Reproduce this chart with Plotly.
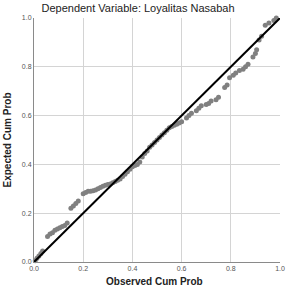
import plotly.graph_objects as go

observed = [0.005, 0.012, 0.02, 0.028, 0.035,
            0.055, 0.065, 0.075, 0.085, 0.095, 0.105, 0.115, 0.125, 0.135,
            0.15, 0.16, 0.17, 0.18,
            0.2, 0.21, 0.22, 0.23, 0.24, 0.25, 0.26, 0.27, 0.28, 0.29, 0.30, 0.31,
            0.32, 0.33, 0.34, 0.35, 0.36,
            0.37, 0.38, 0.39, 0.40, 0.41, 0.42, 0.43, 0.44, 0.45, 0.46, 0.47, 0.48,
            0.49, 0.50, 0.51, 0.52, 0.53, 0.54,
            0.55, 0.56, 0.57, 0.58, 0.59, 0.60, 0.62, 0.63, 0.64, 0.66, 0.67, 0.68,
            0.70, 0.71, 0.72, 0.74, 0.75,
            0.775, 0.785,
            0.795, 0.81, 0.82, 0.835, 0.85, 0.86, 0.87,
            0.89, 0.90, 0.905,
            0.915, 0.925,
            0.94, 0.955, 0.975, 0.985]
expected = [0.005, 0.015, 0.025, 0.035, 0.045,
            0.105, 0.115, 0.12, 0.13, 0.135, 0.14, 0.145, 0.15, 0.16,
            0.22, 0.23, 0.24, 0.25,
            0.28, 0.285, 0.29, 0.29, 0.292, 0.295, 0.30, 0.305, 0.31, 0.315, 0.318, 0.32,
            0.325, 0.33, 0.335, 0.34, 0.35,
            0.36, 0.37, 0.38, 0.39, 0.395, 0.40, 0.41, 0.43, 0.445, 0.455, 0.47, 0.48,
            0.49, 0.50, 0.51, 0.52, 0.53, 0.54,
            0.55, 0.555, 0.56, 0.565, 0.57, 0.575, 0.59, 0.60, 0.61, 0.62, 0.63, 0.64,
            0.645, 0.65, 0.66, 0.665, 0.675,
            0.715, 0.725,
            0.755, 0.765, 0.775, 0.785, 0.79, 0.80, 0.81,
            0.84, 0.855, 0.87,
            0.91, 0.925,
            0.97, 0.98, 0.99, 1.0]
ref_line = [0.0, 1.0]
tick_vals = [0.0, 0.2, 0.4, 0.6, 0.8, 1.0]
tick_text = ["0.0", "0.2", "0.4", "0.6", "0.8", "1.0"]

fig = go.Figure()
fig.add_trace(go.Scatter(x=observed, y=expected, mode="markers",
                         marker=dict(color="#808080", size=5),
                         cliponaxis=False, showlegend=False))
fig.add_trace(go.Scatter(x=ref_line, y=ref_line, mode="lines",
                         line=dict(color="#000000", width=2),
                         cliponaxis=False, showlegend=False))

axis_common = dict(range=[0, 1], tickvals=tick_vals, ticktext=tick_text,
                   showgrid=True, gridcolor="#d4d4d4", gridwidth=1,
                   showline=True, linecolor="#8a8a8a", linewidth=1,
                   zeroline=False, ticks="", automargin=False,
                   tickfont=dict(family="Liberation Sans", size=7, color="#555555"))

fig.update_layout(
    width=288, height=287,
    margin=dict(l=34, r=8, t=18, b=25, autoexpand=False),
    paper_bgcolor="white", plot_bgcolor="white",
    title=dict(text="Dependent Variable: Loyalitas Nasabah",
               x=138/288, xanchor="center", y=1 - 8/287, yanchor="middle",
               font=dict(family="Liberation Sans", size=11, color="#222222")),
    xaxis=dict(**axis_common),
    yaxis=dict(**axis_common,
               title=dict(text="<b>Expected Cum Prob</b>", standoff=8,
                          font=dict(family="Liberation Sans", size=10, color="#222222"))),
    annotations=[dict(text="<b>Observed Cum Prob</b>", xref="paper", yref="paper",
                      x=0.49, y=-0.079, xanchor="center", yanchor="middle",
                      showarrow=False,
                      font=dict(family="Liberation Sans", size=10, color="#222222"))],
)

fig.write_html("out.html")
